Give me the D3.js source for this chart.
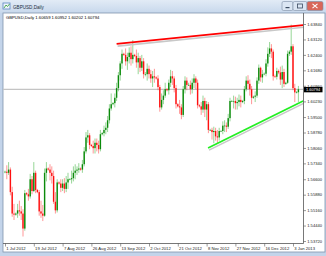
<!DOCTYPE html>
<html>
<head>
<meta charset="utf-8">
<script src="https://cdn.jsdelivr.net/npm/d3@7"></script>
<style>
body { margin: 0; background: #fff; }
svg text { font-family: "Liberation Sans", Arial, sans-serif; }
</style>
</head>
<body>
<div id="chart"></div>
<script>
// GBPUSD daily, 1 Jul 2012 .. 7 Jan 2013 (broker with sunday bars)
var symbol = 'GBPUSD,Daily';

var opens = [
 1.5695,1.5695,1.5690,1.5705,1.5600,1.5500, 1.5495,1.5500,1.5515,1.5510,1.5500,1.5430,
 1.5595,1.5590,1.5580,1.5660,1.5605,1.5690, 1.5610,1.5600,1.5510,1.5500,1.5490,1.5690,
 1.5710,1.5705,1.5690,1.5675,1.5555,1.5515, 1.5645,1.5640,1.5620,1.5640,1.5615,1.5645,
 1.5660,1.5660,1.5665,1.5690,1.5700,1.5705, 1.5710,1.5705,1.5730,1.5790,1.5855,1.5865,
 1.5820,1.5815,1.5805,1.5830,1.5820,1.5800, 1.5870,1.5875,1.5890,1.5900,1.5935,1.5990,
 1.6010,1.6015,1.6040,1.6085,1.6145,1.6200, 1.6245,1.6240,1.6210,1.6230,1.6250,1.6220,
 1.6240,1.6235,1.6205,1.6225,1.6180,1.6210, 1.6150,1.6150,1.6175,1.6150,1.6130,1.6140,
 1.6135,1.6130,1.6090,1.5995,1.6030,1.6050, 1.6080,1.6075,1.6110,1.6140,1.6130,1.6085,
 1.6010,1.6000,1.5995,1.5960,1.6080,1.6120, 1.6100,1.6100,1.6080,1.6110,1.6130,1.6110,
 1.6005,1.6000,1.5985,1.6025,1.5985,1.6010, 1.5890,1.5890,1.5880,1.5885,1.5860,1.5855,
 1.5885,1.5885,1.5910,1.5910,1.5905,1.5945, 1.6025,1.6025,1.6025,1.6015,1.6020,1.6030,
 1.6020,1.6025,1.6080,1.6120,1.6105,1.6080, 1.6040,1.6045,1.6050,1.6120,1.6180,1.6135,
 1.6150,1.6152,1.6200,1.6245,1.6270,1.6255, 1.6140,1.6138,1.6165,1.6158,1.6125,1.6160,
 1.6105,1.6110,1.6245,1.6255,1.6280,1.6085, 1.6065,1.60659
];
var highs = [
 1.5700,1.5725,1.5740,1.5715,1.5625,1.5545, 1.5505,1.5545,1.5560,1.5535,1.5520,1.5610,
 1.5600,1.5615,1.5685,1.5675,1.5740,1.5700, 1.5615,1.5610,1.5560,1.5540,1.5710,1.5740,
 1.5715,1.5730,1.5720,1.5700,1.5600,1.5660, 1.5650,1.5660,1.5660,1.5665,1.5675,1.5690,
 1.5665,1.5700,1.5720,1.5730,1.5720,1.5735, 1.5715,1.5750,1.5810,1.5880,1.5890,1.5875,
 1.5825,1.5840,1.5850,1.5850,1.5840,1.5890, 1.5880,1.5910,1.5925,1.5955,1.6010,1.6060,
 1.6020,1.6060,1.6110,1.6160,1.6210,1.6265, 1.6250,1.6270,1.6250,1.6275,1.6280,1.6309,
 1.6245,1.6265,1.6250,1.6235,1.6240,1.6225, 1.6160,1.6200,1.6190,1.6170,1.6165,1.6175,
 1.6140,1.6145,1.6100,1.6060,1.6075,1.6110, 1.6085,1.6125,1.6170,1.6165,1.6140,1.6100,
 1.6015,1.6030,1.6010,1.6095,1.6140,1.6135, 1.6110,1.6120,1.6130,1.6150,1.6140,1.6125,
 1.6010,1.6020,1.6050,1.6040,1.6025,1.6020, 1.5895,1.5900,1.5905,1.5900,1.5890,1.5900,
 1.5890,1.5930,1.5935,1.5925,1.5965,1.6040, 1.6030,1.6050,1.6045,1.6040,1.6055,1.6050,
 1.6030,1.6095,1.6140,1.6145,1.6125,1.6095, 1.6050,1.6070,1.6135,1.6195,1.6185,1.6170,
 1.6158,1.6220,1.6275,1.6300,1.6290,1.6265, 1.6148,1.6180,1.6172,1.6185,1.6190,1.6175,
 1.6115,1.6260,1.6262,1.6381,1.6290,1.6105, 1.6072,1.60952
];
var lows = [
 1.5688,1.5660,1.5680,1.5585,1.5485,1.5470, 1.5490,1.5480,1.5490,1.5470,1.5393,1.5420,
 1.5585,1.5560,1.5570,1.5590,1.5600,1.5595, 1.5595,1.5490,1.5480,1.5465,1.5485,1.5650,
 1.5700,1.5655,1.5640,1.5545,1.5500,1.5505, 1.5635,1.5600,1.5605,1.5595,1.5600,1.5615,
 1.5655,1.5640,1.5650,1.5660,1.5680,1.5690, 1.5700,1.5690,1.5720,1.5780,1.5830,1.5800,
 1.5810,1.5780,1.5780,1.5790,1.5780,1.5790, 1.5865,1.5860,1.5870,1.5880,1.5920,1.5980,
 1.6005,1.5995,1.6025,1.6070,1.6120,1.6175, 1.6235,1.6190,1.6170,1.6200,1.6190,1.6200,
 1.6230,1.6180,1.6150,1.6160,1.6165,1.6130, 1.6140,1.6120,1.6130,1.6110,1.6090,1.6110,
 1.6125,1.6075,1.5975,1.5985,1.6010,1.6040, 1.6070,1.6055,1.6090,1.6100,1.6065,1.5990,
 1.5995,1.5965,1.5940,1.5950,1.6060,1.6075, 1.6095,1.6055,1.6060,1.6085,1.6080,1.5990,
 1.5995,1.5960,1.5970,1.5950,1.5935,1.5875, 1.5885,1.5845,1.5828,1.5840,1.5830,1.5840,
 1.5880,1.5870,1.5880,1.5880,1.5895,1.5930, 1.6020,1.5990,1.5985,1.5985,1.6000,1.5995,
 1.6015,1.6010,1.6070,1.6080,1.6050,1.6010, 1.6035,1.6020,1.6040,1.6105,1.6115,1.6110,
 1.6145,1.6140,1.6185,1.6230,1.6225,1.6120, 1.6132,1.6125,1.6150,1.6100,1.6085,1.6090,
 1.6100,1.6105,1.6235,1.6240,1.6075,1.6020, 1.6060,1.60202
];
var closes = [
 1.5695,1.5690,1.5705,1.5600,1.5500,1.5495, 1.5500,1.5515,1.5510,1.5500,1.5430,1.5595,
 1.5590,1.5580,1.5660,1.5605,1.5690,1.5610, 1.5600,1.5510,1.5500,1.5490,1.5690,1.5710,
 1.5705,1.5690,1.5675,1.5555,1.5515,1.5645, 1.5640,1.5620,1.5640,1.5615,1.5645,1.5660,
 1.5660,1.5665,1.5690,1.5700,1.5705,1.5710, 1.5705,1.5730,1.5790,1.5855,1.5865,1.5820,
 1.5815,1.5805,1.5830,1.5820,1.5800,1.5870, 1.5875,1.5890,1.5900,1.5935,1.5990,1.6010,
 1.6015,1.6040,1.6085,1.6145,1.6200,1.6245, 1.6240,1.6210,1.6230,1.6250,1.6220,1.6240,
 1.6235,1.6205,1.6225,1.6180,1.6210,1.6150, 1.6150,1.6175,1.6150,1.6130,1.6140,1.6135,
 1.6130,1.6090,1.5995,1.6030,1.6050,1.6080, 1.6075,1.6110,1.6140,1.6130,1.6085,1.6010,
 1.6000,1.5995,1.5960,1.6080,1.6120,1.6100, 1.6100,1.6080,1.6110,1.6130,1.6110,1.6005,
 1.6000,1.5985,1.6025,1.5985,1.6010,1.5890, 1.5890,1.5880,1.5885,1.5860,1.5855,1.5885,
 1.5885,1.5910,1.5910,1.5905,1.5945,1.6025, 1.6025,1.6025,1.6015,1.6020,1.6030,1.6020,
 1.6025,1.6080,1.6120,1.6105,1.6080,1.6040, 1.6045,1.6050,1.6120,1.6180,1.6135,1.6150,
 1.6152,1.6200,1.6245,1.6270,1.6255,1.6140, 1.6138,1.6165,1.6158,1.6125,1.6160,1.6105,
 1.6110,1.6245,1.6255,1.6280,1.6085,1.6065, 1.60659,1.60794
];

// axis labels (MT4 puts a date every 16 bars)
var timeTickIdx = [0, 16, 32, 48, 64, 80, 96, 112, 128, 144, 160];
var timeLabels = ['1 Jul 2012', '19 Jul 2012', '7 Aug 2012', '26 Aug 2012', '13 Sep 2012', '2 Oct 2012',
                  '21 Oct 2012', '8 Nov 2012', '27 Nov 2012', '16 Dec 2012', '3 Jan 2013'];
var priceTicks = [1.63840, 1.63120, 1.62400, 1.61680, 1.60960, 1.60230, 1.59500, 1.58780,
                  1.58060, 1.57340, 1.56600, 1.55880, 1.55160, 1.54440, 1.53720];

// trend lines drawn on the chart: [bar index, price]
var redLine = [[62, 1.6291], [165.6, 1.6379]];
var greenLine = [[112.8, 1.5806], [165.6, 1.6025]];

var svgW = 326, svgH = 256,
    plotR = 303.5, plotB = 243.5;

var svg = d3.select('#chart').append('svg')
    .attr('width', svgW)
    .attr('height', svgH);

// ---- window chrome ----
var defs = svg.append('defs');
var g1 = defs.append('linearGradient').attr('id', 'tbar').attr('x1', 0).attr('y1', 0).attr('x2', 0).attr('y2', 1);
g1.append('stop').attr('offset', '0%').attr('stop-color', '#e2ebf6');
g1.append('stop').attr('offset', '100%').attr('stop-color', '#c7d8ec');
defs.append('clipPath').attr('id', 'plotclip')
    .append('rect').attr('x', 3).attr('y', 13).attr('width', plotR - 3).attr('height', plotB - 13);

svg.append('rect').attr('width', svgW).attr('height', svgH).attr('fill', '#c3d4ea');
svg.append('rect').attr('width', svgW).attr('height', 13).attr('fill', 'url(#tbar)');

// little chart icon
svg.append('rect').attr('x', 3).attr('y', 3).attr('width', 7).attr('height', 6)
    .attr('fill', '#eef4fb').attr('stroke', '#5a86c0').attr('stroke-width', 0.8);
svg.append('path').attr('d', 'M4,8 L6,5 L7.5,6.5 L9.5,4').attr('fill', 'none')
    .attr('stroke', '#2e9b2e').attr('stroke-width', 0.8);

svg.append('text').attr('x', 13).attr('y', 8.6).attr('font-size', 4.6).attr('fill', '#1e2d40')
    .text(symbol);

// min / max / close buttons
var btns = [{x: 282, w: 11, c: '#dbe6f3'}, {x: 293, w: 14, c: '#dbe6f3'}, {x: 307, w: 16, c: '#d8675b'}];
svg.selectAll('.btn').data(btns).enter().append('rect')
    .attr('x', function (d) { return d.x; })
    .attr('y', 1.5)
    .attr('width', function (d) { return d.w; })
    .attr('height', 9)
    .attr('rx', 1.5)
    .attr('fill', function (d) { return d.c; })
    .attr('stroke', '#7d8ea6').attr('stroke-width', 0.6);
svg.append('rect').attr('x', 285.5).attr('y', 7).attr('width', 4).attr('height', 1.2).attr('fill', '#3a4a60');
svg.append('rect').attr('x', 297.5).attr('y', 4).attr('width', 5).attr('height', 4)
    .attr('fill', 'none').attr('stroke', '#3a4a60').attr('stroke-width', 0.8);
svg.append('path').attr('d', 'M312.5,3.8 L317.5,8.2 M317.5,3.8 L312.5,8.2')
    .attr('stroke', '#fff').attr('stroke-width', 1.1);

// chart panel
svg.append('rect').attr('x', 3).attr('y', 13).attr('width', 322).attr('height', 239)
    .attr('fill', '#fff').attr('stroke', '#8194ad').attr('stroke-width', 0.8);

svg.append('text').attr('x', 6).attr('y', 19).attr('font-size', 4.2).attr('fill', '#000')
    .text(symbol + '  ' + opens[163].toFixed(5) + ' ' + highs[163].toFixed(5) + ' ' +
          lows[163].toFixed(5) + ' ' + closes[163].toFixed(5));

// ---- scales ----
var x = d3.scaleLinear().domain([0, 163]).range([5, 298.4]);
var y = d3.scaleLinear().domain([priceTicks[14], priceTicks[0]]).range([241, 24]);

var bars = closes.map(function (c, i) {
    return {i: i, o: opens[i], h: highs[i], l: lows[i], c: c};
});

// bid line
svg.append('line')
    .attr('x1', 3).attr('x2', plotR)
    .attr('y1', y(closes[163])).attr('y2', y(closes[163]))
    .attr('stroke', '#c4c4c4').attr('stroke-width', 1.2);

// ---- candles ----
var plot = svg.append('g').attr('clip-path', 'url(#plotclip)');

function col(d) { return d.c >= d.o ? '#0b8a0b' : '#ff1010'; }

plot.selectAll('.wick').data(bars).enter().append('line')
    .attr('x1', function (d) { return x(d.i); })
    .attr('x2', function (d) { return x(d.i); })
    .attr('y1', function (d) { return y(d.h); })
    .attr('y2', function (d) { return y(d.l); })
    .attr('stroke', function (d) { return d.c >= d.o ? '#2fae2f' : '#ff3030'; })
    .attr('stroke-opacity', 0.5)
    .attr('stroke-width', 1);

plot.selectAll('.body').data(bars).enter().append('rect')
    .attr('x', function (d) { return x(d.i) - 0.7; })
    .attr('y', function (d) { return y(Math.max(d.o, d.c)); })
    .attr('width', 1.4)
    .attr('height', function (d) { return Math.max(0.6, Math.abs(y(d.o) - y(d.c))); })
    .attr('fill', col);

// ---- trend lines (with the grey shadow mt4 leaves under them) ----
var tl = d3.line()
    .x(function (d) { return x(d[0]); })
    .y(function (d) { return y(d[1]); });

[[redLine, '#ff0000'], [greenLine, '#22ee22']].forEach(function (t) {
    plot.append('path').attr('d', tl(t[0])).attr('transform', 'translate(1,2.2)')
        .attr('stroke', '#c8c8c8').attr('stroke-width', 1.6).attr('fill', 'none');
    plot.append('path').attr('d', tl(t[0]))
        .attr('stroke', t[1]).attr('stroke-width', 1.7).attr('fill', 'none');
});

// ---- frame + axes ----
svg.append('line').attr('x1', plotR).attr('x2', plotR).attr('y1', 13).attr('y2', plotB)
    .attr('stroke', '#555').attr('stroke-width', 0.8);
svg.append('line').attr('x1', 3).attr('x2', plotR).attr('y1', plotB).attr('y2', plotB)
    .attr('stroke', '#555').attr('stroke-width', 0.8);

var yAxis = svg.append('g')
    .attr('transform', 'translate(' + plotR + ',0)')
    .call(d3.axisRight(y).tickValues(priceTicks).tickSize(2.5).tickPadding(1.2)
        .tickFormat(d3.format('.5f')));
yAxis.select('.domain').remove();
yAxis.selectAll('line').attr('stroke', '#555').attr('stroke-width', 0.6);
yAxis.selectAll('text').attr('font-size', 4.1).attr('fill', '#222')
    .attr('font-family', '"Liberation Sans", Arial, sans-serif');

var xAxis = svg.append('g')
    .attr('transform', 'translate(0,' + plotB + ')')
    .call(d3.axisBottom(x).tickValues(timeTickIdx).tickSize(3).tickPadding(0.8)
        .tickFormat(function (d, i) { return timeLabels[i]; }));
xAxis.select('.domain').remove();
xAxis.selectAll('line').attr('stroke', '#555').attr('stroke-width', 0.6);
xAxis.selectAll('text').attr('font-size', 4.2).attr('fill', '#222')
    .attr('text-anchor', 'start').attr('dx', 0.8)
    .attr('font-family', '"Liberation Sans", Arial, sans-serif');

// current price tag
var cy = y(closes[163]);
svg.append('rect').attr('x', plotR + 0.5).attr('y', cy - 2.4).attr('width', 18.5).attr('height', 5.4)
    .attr('fill', '#000');
svg.append('text').attr('x', plotR + 2.5).attr('y', cy + 1.9).attr('font-size', 3.9)
    .attr('fill', '#fff').text(closes[163].toFixed(5));
</script>
</body>
</html>
